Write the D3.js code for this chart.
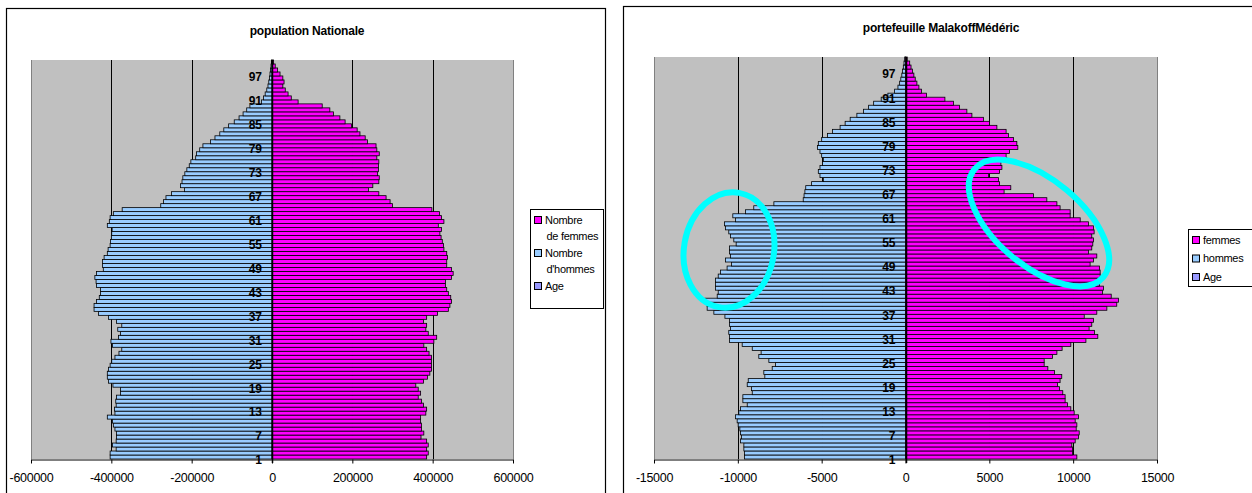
<!DOCTYPE html>
<html>
<head>
<meta charset="utf-8">
<script src="https://cdn.jsdelivr.net/npm/d3@7"></script>
<style>
	body { margin: 0; background: #fff; }
	svg text { font-family: "Liberation Sans", Arial, sans-serif; fill: #000; }
</style>
</head>
<body>
<svg id="chart" width="1252" height="493"></svg>
<script>
// ages 1..100 (index 0 = age 1)
const ages = d3.range(1, 101);
const ageTicks = ages.filter(a => (a - 1) % 6 == 0);

// population Nationale
const natHommes = [
	-403000, -403000, -388000, -397000, -388000, -387000, -387000, -391000, -395000, -397000,
	-410000, -391000, -392000, -388000, -389000, -387000, -377000, -377000, -396000, -407000,
	-410000, -410000, -407000, -403000, -399000, -391000, -381000, -374000, -397000, -401000,
	-382000, -377000, -384000, -374000, -387000, -407000, -432000, -443000, -443000, -437000,
	-430000, -427000, -427000, -437000, -438000, -441000, -437000, -420000, -422000, -422000,
	-418000, -410000, -408000, -403000, -402000, -400000, -399000, -398000, -410000, -405000,
	-403000, -395000, -373000, -277000, -270000, -264000, -250000, -218000, -228000, -224000,
	-222000, -217000, -212000, -206000, -202000, -190000, -188000, -180000, -172000, -153000,
	-142000, -130000, -120000, -108000, -94000, -82000, -72000, -63000, -55000, -26000,
	-21000, -17000, -13000, -10000, -8000, -6500, -5000, -3500, -2500, -1500
];
const natFemmes = [
	385000, 389000, 385000, 389000, 385000, 371000, 378000, 372000, 372000, 370000,
	370000, 383000, 385000, 377000, 372000, 364000, 370000, 364000, 358000, 377000,
	387000, 393000, 397000, 397000, 397000, 397000, 391000, 385000, 378000, 403000,
	410000, 389000, 383000, 385000, 377000, 385000, 412000, 439000, 443000, 447000,
	445000, 439000, 435000, 432000, 432000, 447000, 451000, 447000, 435000, 435000,
	437000, 435000, 428000, 427000, 424000, 421000, 418000, 422000, 414000, 428000,
	422000, 417000, 398000, 300000, 294000, 284000, 266000, 240000, 251000, 266000,
	267000, 263000, 265000, 265000, 266000, 261000, 267000, 261000, 259000, 238000,
	232000, 219000, 212000, 198000, 182000, 169000, 153000, 144000, 125000, 65000,
	48000, 40000, 33000, 27000, 30000, 27000, 20000, 14000, 8000, 4000
];

// portefeuille MalakoffMédéric
const ptfHommes = [
	-9600, -9600, -9640, -9640, -9840, -9780, -9840, -9880, -9980, -10040,
	-10140, -9940, -9840, -9440, -9700, -9700, -9140, -9180, -9440, -9380,
	-8390, -8450, -7950, -7750, -8150, -8750, -8610, -9140, -9740, -10500,
	-10500, -10540, -10440, -10500, -10500, -10770, -11430, -11830, -11830, -11970,
	-11230, -11170, -11330, -11330, -11330, -11170, -11030, -10640, -10380, -10740,
	-10440, -10500, -10500, -10100, -10240, -10440, -10540, -10740, -10800, -10140,
	-10300, -9540, -9050, -7850, -6100, -6050, -6000, -5950, -5600, -4900,
	-5100, -5200, -5100, -4950, -4900, -5000, -5100, -5250, -5200, -5000,
	-4650, -4350, -3900, -3600, -3300, -2900, -2500, -2200, -1900, -1450,
	-1050, -650, -450, -350, -280, -220, -180, -130, -90, -50
];
const ptfFemmes = [
	10220, 9960, 9960, 9920, 10120, 10320, 10360, 10180, 10220, 10120,
	10320, 10060, 9860, 9660, 9520, 9520, 9380, 9180, 9070, 9220,
	9320, 8890, 8490, 8270, 8270, 8770, 9030, 9340, 9860, 10760,
	11470, 11270, 10950, 11110, 11210, 10660, 11410, 12010, 12600, 12700,
	12270, 11750, 11810, 11570, 11570, 11610, 11610, 11570, 11010, 11210,
	11410, 10910, 11110, 11170, 11210, 11110, 11250, 11210, 10910, 10420,
	9820, 9820, 9220, 9030, 8430, 7630, 5880, 6280, 5610, 5550,
	4950, 5610, 5750, 5690, 6040, 6000, 6200, 6700, 6640, 6440,
	6140, 6000, 5450, 5010, 4650, 3960, 3660, 3220, 2860, 2350,
	1250, 950, 800, 680, 580, 500, 420, 330, 250, 100
];

const natTicks = [-600000, -400000, -200000, 0, 200000, 400000, 600000];
const ptfTicks = [-15000, -10000, -5000, 0, 5000, 10000, 15000];

const natLegend = [
	{lines: ["Nombre", "de femmes"], color: "#FF00FF"},
	{lines: ["Nombre", "d'hommes"], color: "#99CCFF"},
	{lines: ["Age"], color: "#9999FF"}
];
const ptfLegend = [
	{lines: ["femmes"], color: "#FF00FF"},
	{lines: ["hommes"], color: "#99CCFF"},
	{lines: ["Age"], color: "#9999FF"}
];

const svg = d3.select("#chart");

function drawPyramid(cfg){
	let g = svg.append("g");

	// chart area frame
	g.append("rect")
		.attr("x", cfg.box[0] + 0.5).attr("y", cfg.box[1] + 0.5)
		.attr("width", cfg.box[2]).attr("height", cfg.box[3])
		.attr("fill", "#fff").attr("stroke", "#000").attr("stroke-width", 1.2);

	let x = d3.scaleLinear()
		.domain([cfg.ticks[0], cfg.ticks[cfg.ticks.length - 1]])
		.range([cfg.plot.x0, cfg.plot.x1]);
	let y = d3.scaleBand()
		.domain(ages.slice().reverse())
		.range([cfg.plot.y0, cfg.plot.y1])
		.padding(0);

	// plot area
	g.append("rect")
		.attr("x", cfg.plot.x0).attr("y", cfg.plot.y0)
		.attr("width", cfg.plot.x1 - cfg.plot.x0).attr("height", cfg.plot.y1 - cfg.plot.y0)
		.attr("fill", "#C0C0C0");
	g.selectAll("line.edge")
		.data([cfg.plot.x0, cfg.plot.x1])
		.join("line")
		.attr("x1", d => d + 0.5).attr("x2", d => d + 0.5)
		.attr("y1", cfg.plot.y0).attr("y2", cfg.plot.y1)
		.attr("stroke", "#808080");

	// gridlines
	g.selectAll("line.grid")
		.data(cfg.ticks.slice(1, -1).filter(t => t != 0))
		.join("line")
		.attr("x1", d => Math.round(x(d)) + 0.5).attr("x2", d => Math.round(x(d)) + 0.5)
		.attr("y1", cfg.plot.y0).attr("y2", cfg.plot.y1)
		.attr("stroke", "#000");

	// bars
	let series = [
		{values: cfg.hommes, color: "#99CCFF"},
		{values: cfg.femmes, color: "#FF00FF"}
	];
	for (let s of series){
		g.append("g").selectAll("rect")
			.data(ages)
			.join("rect")
			.attr("x", (a, i) => x(Math.min(0, s.values[i])))
			.attr("y", a => y(a))
			.attr("width", (a, i) => Math.abs(x(s.values[i]) - x(0)))
			.attr("height", y.bandwidth())
			.attr("fill", s.color)
			.attr("stroke", "#000")
			.attr("stroke-width", 0.8);
	}

	// category axis at zero
	let x0 = Math.round(x(0)) + 0.5;
	g.append("line")
		.attr("x1", x0).attr("x2", x0)
		.attr("y1", cfg.plot.y0).attr("y2", cfg.plot.y1 + 4)
		.attr("stroke", "#000").attr("stroke-width", 1.5);

	g.selectAll("text.age")
		.data(ageTicks)
		.join("text")
		.attr("x", x(0) - 10)
		.attr("y", a => y(a) + y.bandwidth() / 2 + 3)
		.attr("dy", "0.36em")
		.attr("text-anchor", "end")
		.attr("font-size", 12)
		.attr("font-weight", "bold")
		.text(a => a);

	// value axis
	let axis = g.append("g")
		.attr("transform", "translate(0," + (cfg.plot.y1 + 0.5) + ")")
		.call(d3.axisBottom(x).tickValues(cfg.ticks).tickSize(4).tickSizeOuter(0).tickPadding(10)
			.tickFormat(d => String(d)));
	axis.select(".domain").attr("stroke", "#000");
	axis.selectAll(".tick line").attr("stroke", "#000");
	axis.selectAll(".tick text")
		.attr("font-family", "'Liberation Sans', Arial, sans-serif")
		.attr("font-size", 12.5)
		.attr("letter-spacing", -0.3)
		.attr("fill", "#000");

	// title
	g.append("text")
		.attr("x", cfg.titleX).attr("y", cfg.titleY)
		.attr("dy", "0.36em")
		.attr("text-anchor", "middle")
		.attr("font-size", 12)
		.attr("font-weight", "bold")
		.attr("letter-spacing", -0.2)
		.text(cfg.title);

	// legend
	let lg = g.append("g");
	lg.append("rect")
		.attr("x", cfg.legend.x + 0.5).attr("y", cfg.legend.y + 0.5)
		.attr("width", cfg.legend.w).attr("height", cfg.legend.h)
		.attr("fill", "#fff").attr("stroke", "#000");
	let ly = cfg.legend.y + cfg.legend.first;
	for (let item of cfg.legend.items){
		lg.append("rect")
			.attr("x", cfg.legend.x + 4.5).attr("y", ly - 3.5)
			.attr("width", 7).attr("height", 7)
			.attr("fill", item.color).attr("stroke", "#000");
		item.lines.forEach((t, i) => {
			lg.append("text")
				.attr("x", cfg.legend.x + (i == 0 ? 15 : 16.5))
				.attr("y", ly + i * cfg.legend.line)
				.attr("dy", "0.36em")
				.attr("font-size", 11)
				.attr("letter-spacing", -0.3)
				.text(t);
		});
		ly += item.lines.length * cfg.legend.line + cfg.legend.gap;
	}
	return {g: g, x: x, y: y};
}

drawPyramid({
	box: [6, 8, 599, 500],
	plot: {x0: 31, x1: 513, y0: 60, y1: 459},
	ticks: natTicks,
	hommes: natHommes,
	femmes: natFemmes,
	title: "population Nationale",
	titleX: 307, titleY: 31,
	legend: {x: 530, y: 209, w: 73, h: 99, first: 11, line: 16, gap: 1, items: natLegend}
});

let right = drawPyramid({
	box: [623, 6, 700, 500],
	plot: {x0: 654, x1: 1157, y0: 57, y1: 459},
	ticks: ptfTicks,
	hommes: ptfHommes,
	femmes: ptfFemmes,
	title: "portefeuille MalakoffMédéric",
	titleX: 941, titleY: 28,
	legend: {x: 1188, y: 229, w: 80, h: 57, first: 11, line: 18.5, gap: 0, items: ptfLegend}
});

// highlight ellipses
right.g.selectAll("ellipse")
	.data([
		{cx: 729, cy: 250, rx: 45, ry: 58, rot: 10},
		{cx: 1039, cy: 223, rx: 84, ry: 43, rot: 40}
	])
	.join("ellipse")
	.attr("transform", d => "translate(" + d.cx + "," + d.cy + ") rotate(" + d.rot + ")")
	.attr("rx", d => d.rx).attr("ry", d => d.ry)
	.attr("fill", "none")
	.attr("stroke", "#00FFFF")
	.attr("stroke-width", 6);
</script>
</body>
</html>
